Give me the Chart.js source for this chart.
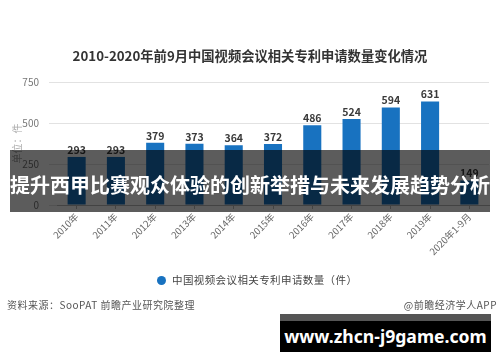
<!DOCTYPE html>
<html>
<head>
<meta charset="utf-8">
<script src="https://cdn.jsdelivr.net/npm/chart.js@4.4.1/dist/chart.umd.min.js"></script>
<style>
  body { margin: 0; background: #fff; font-family: "Noto Sans CJK SC", sans-serif; }
  #wrap { position: relative; width: 500px; height: 362px; overflow: hidden; }
  #chart { position: absolute; left: 0; top: 0; }
  .txt { position: absolute; white-space: nowrap; }
  #title { left: 0; width: 500px; top: 46px; text-align: center; font-size: 13.3px; font-weight: bold; color: #333; }
  #legend { left: 157px; top: 272px; font-size: 10.5px; color: #444; letter-spacing: 0.4px; }
  #legend i { display: inline-block; width: 9px; height: 9px; border-radius: 50%; background: #1872c0; margin-right: 6px; vertical-align: -1px; }
  #source { left: 7px; top: 297px; font-size: 10px; color: #555; letter-spacing: 0.5px; }
  #brand { right: 3px; top: 297px; font-size: 10px; color: #555; letter-spacing: 0.5px; }
  #banner { left: 10px; top: 150px; width: 480px; height: 62px; background: rgba(0,0,0,0.64);
            color: #fff; font-size: 20px; font-weight: bold; text-align: center; line-height: 70px; }
  #site { left: 280px; top: 314px; width: 211px; height: 31px; background: #000; border-top: 7px solid #555;
          color: #fff; font-family: "Noto Sans", sans-serif; font-size: 17.6px; font-weight: bold; text-align: center; line-height: 30px; }
</style>
</head>
<body>
<div id="wrap">
  <canvas id="chart" width="500" height="362"></canvas>
  <div class="txt" id="title">2010-2020年前9月中国视频会议相关专利申请数量变化情况</div>
  <div class="txt" id="legend"><i></i>中国视频会议相关专利申请数量（件）</div>
  <div class="txt" id="source">资料来源：SooPAT 前瞻产业研究院整理</div>
  <div class="txt" id="brand">@前瞻经济学人APP</div>
  <div class="txt" id="banner">提升西甲比赛观众体验的创新举措与未来发展趋势分析</div>
  <div class="txt" id="site">www.zhcn-j9game.com</div>
</div>
<script>
var years = ['2010年', '2011年', '2012年', '2013年', '2014年', '2015年',
             '2016年', '2017年', '2018年', '2019年', '2020年1-9月'];
var patents = [293, 293, 379, 373, 364, 372, 486, 524, 594, 631, 149];
var yTicks = [0, 250, 500, 750];

// 柱顶数值
var valueLabels = {
  id: 'valueLabels',
  afterDatasetsDraw: function(chart) {
    var ctx = chart.ctx;
    var meta = chart.getDatasetMeta(0);
    ctx.save();
    ctx.font = 'bold 10.5px "Noto Sans CJK SC"';
    ctx.fillStyle = '#3a3a3a';
    ctx.textAlign = 'center';
    ctx.textBaseline = 'bottom';
    meta.data.forEach(function(bar, i) {
      ctx.fillText(patents[i], bar.x, bar.y - 2);
    });
    ctx.restore();
  }
};

new Chart(document.getElementById('chart'), {
  type: 'bar',
  data: {
    labels: years,
    datasets: [{
      label: '中国视频会议相关专利申请数量（件）',
      data: patents,
      backgroundColor: '#1872c0',
      categoryPercentage: 1,
      barPercentage: 0.46
    }]
  },
  options: {
    responsive: false,
    animation: false,
    layout: { padding: { top: 82, left: 11, right: 11, bottom: 100 } },
    plugins: {
      legend: { display: false },
      title: { display: false },
      tooltip: { enabled: false }
    },
    scales: {
      x: {
        grid: { display: true, drawOnChartArea: false, offset: false, tickLength: 4, color: '#bbb' },
        border: { color: '#bbb' },
        ticks: {
          maxRotation: 45, minRotation: 45, padding: 2,
          color: '#666', font: { size: 9.5, family: 'Noto Sans CJK SC' }
        },
        afterFit: function(scale) { scale.height = 57; }
      },
      y: {
        min: 0, max: 750,
        afterBuildTicks: function(scale) {
          scale.ticks = yTicks.map(function(v) { return { value: v }; });
        },
        grid: { color: '#e2e2e2' },
        border: { display: false },
        ticks: { color: '#777', padding: 10, font: { size: 10, family: 'Noto Sans CJK SC' } },
        title: { display: true, text: '单位：件', color: '#aaa', padding: 0,
                 font: { size: 10, family: 'Noto Sans CJK SC' } },
        afterFit: function(scale) { scale.width = 46; }
      }
    }
  },
  plugins: [valueLabels]
});
</script>
</body>
</html>
